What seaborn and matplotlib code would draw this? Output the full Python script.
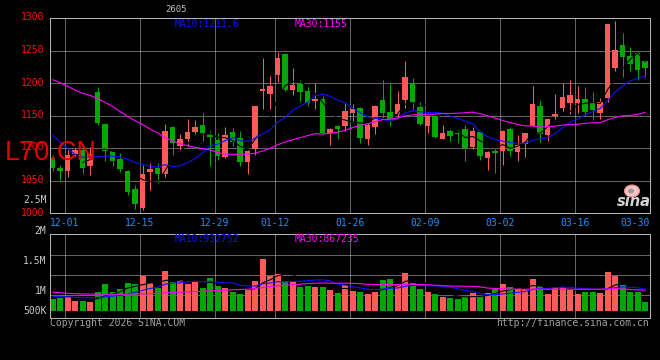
import numpy as np
import pandas as pd
import matplotlib
matplotlib.use("Agg")
import matplotlib.pyplot as plt
import matplotlib.transforms as mtransforms
from matplotlib.patches import Ellipse
import seaborn as sns

# ---------------- data ----------------
tick_labels = ["12-01", "12-15", "12-29", "01-12", "01-26", "02-09", "03-02", "03-16", "03-30"]
tick_index = [2, 12, 22, 30, 40, 50, 60, 70, 80]

open_ = [1084.6, 1069.2, 1065.1, 1091.0, 1097.0, 1072.0, 1186.2, 1136.9, 1094.9, 1083.0,
         1064.1, 1036.9, 1007.7, 1063.0, 1069.2, 1060.5, 1131.8, 1102.6, 1114.4, 1124.6,
         1135.9, 1121.5, 1112.8, 1085.6, 1124.6, 1115.4, 1078.5, 1099.0, 1188.2, 1183.0,
         1212.8, 1244.6, 1189.7, 1200.0, 1188.2, 1171.8, 1175.4, 1123.1, 1133.3, 1134.0,
         1154.0, 1161.5, 1114.4, 1132.3, 1173.8, 1155.4, 1152.3, 1174.4, 1200.0, 1163.1,
         1134.4, 1149.7, 1114.4, 1125.6, 1123.6, 1129.2, 1101.5, 1124.6, 1084.6, 1095.9,
         1095.9, 1129.2, 1093.3, 1106.2, 1134.4, 1165.1, 1120.5, 1148.7, 1161.5, 1169.2,
         1169.2, 1175.9, 1170.8, 1153.8, 1176.9, 1223.1, 1259.0, 1242.0, 1246.2, 1233.3]
high = [1089.7, 1074.4, 1097.4, 1100.0, 1102.0, 1102.0, 1193.8, 1138.5, 1097.4, 1092.3,
        1066.7, 1043.6, 1074.4, 1076.4, 1076.4, 1136.9, 1134.4, 1121.5, 1144.6, 1143.6,
        1153.8, 1125.6, 1123.0, 1131.8, 1130.8, 1125.6, 1097.4, 1165.1, 1238.5, 1211.3,
        1247.7, 1244.6, 1223.1, 1205.1, 1197.4, 1199.5, 1180.5, 1130.8, 1134.9, 1169.0,
        1168.0, 1162.6, 1138.5, 1165.6, 1205.1, 1200.0, 1188.2, 1234.4, 1207.7, 1170.8,
        1151.3, 1150.3, 1135.9, 1130.8, 1127.7, 1134.9, 1132.3, 1125.6, 1094.9, 1100.0,
        1128.2, 1132.3, 1120.5, 1123.1, 1194.9, 1174.4, 1146.2, 1183.1, 1200.0, 1205.1,
        1194.9, 1193.8, 1186.2, 1176.9, 1290.8, 1295.9, 1276.9, 1254.9, 1248.7, 1234.4]
low = [1065.1, 1051.3, 1054.9, 1088.0, 1061.0, 1058.0, 1135.9, 1080.5, 1071.8, 1063.0,
       1027.2, 1006.7, 1005.1, 1035.9, 1046.2, 1054.9, 1089.7, 1094.9, 1102.6, 1119.5,
       1110.3, 1071.8, 1082.0, 1084.6, 1102.6, 1071.8, 1060.0, 1089.7, 1160.5, 1160.5,
       1201.5, 1188.2, 1181.0, 1172.8, 1164.1, 1160.5, 1121.5, 1105.1, 1114.4, 1126.0,
       1140.0, 1107.7, 1105.1, 1122.1, 1146.2, 1134.4, 1146.2, 1161.5, 1160.5, 1134.9,
       1123.1, 1115.4, 1114.4, 1110.3, 1107.7, 1080.5, 1099.0, 1082.1, 1066.7, 1061.5,
       1073.3, 1087.2, 1080.5, 1085.6, 1133.3, 1109.2, 1111.3, 1142.0, 1156.4, 1152.3,
       1153.8, 1151.3, 1143.6, 1145.1, 1170.8, 1217.9, 1208.7, 1219.0, 1205.1, 1208.7]
close = [1069.2, 1065.1, 1090.0, 1097.0, 1069.0, 1090.0, 1138.5, 1095.9, 1080.5, 1067.7,
         1032.3, 1014.4, 1060.5, 1067.7, 1060.5, 1125.6, 1107.7, 1113.8, 1124.6, 1132.3,
         1123.1, 1116.4, 1087.2, 1120.5, 1109.2, 1078.5, 1094.9, 1165.1, 1191.3, 1194.9,
         1238.5, 1189.7, 1197.4, 1186.2, 1169.2, 1175.9, 1123.1, 1129.2, 1129.7, 1157.0,
         1160.0, 1115.4, 1134.9, 1164.1, 1153.8, 1143.6, 1167.7, 1209.2, 1170.8, 1136.9,
         1148.7, 1116.9, 1123.1, 1119.0, 1121.0, 1100.0, 1125.6, 1088.2, 1093.8, 1092.8,
         1126.7, 1095.9, 1105.1, 1123.1, 1167.7, 1122.1, 1145.1, 1152.3, 1178.5, 1182.1,
         1175.9, 1155.4, 1158.0, 1170.8, 1290.8, 1251.3, 1240.0, 1229.2, 1219.5, 1223.1]
volume = [503000, 546000, 576000, 430000, 430000, 374000, 804000, 1148000, 804000, 946000,
          1191000, 1148000, 1504000, 1191000, 976000, 1694000, 1234000, 1307000, 1169000, 1234000,
          976000, 1406000, 1062000, 976000, 817000, 731000, 933000, 1277000, 2222000, 1492000,
          1590000, 1277000, 1277000, 1019000, 1062000, 1019000, 1019000, 890000, 761000, 1092000,
          860000, 804000, 718000, 817000, 1320000, 1363000, 1148000, 1633000, 1191000, 933000,
          804000, 718000, 589000, 546000, 503000, 632000, 761000, 632000, 761000, 933000,
          1148000, 1019000, 976000, 890000, 1363000, 1062000, 718000, 1019000, 1019000, 890000,
          718000, 804000, 804000, 761000, 1663000, 1492000, 1105000, 804000, 804000, 374000]

# moving-average values at the left edge (they depend on earlier sessions not shown)
ma10_head = [1119.5, 1108.7, 1099.0, 1090.3, 1085.7, 1085.7, 1086.7, 1087.7, 1087.2]
ma30_head = [1205.0, 1200.5, 1195.0, 1189.0, 1184.0, 1181.0, 1176.0, 1170.0, 1164.0, 1156.0,
             1148.5, 1142.0, 1136.0, 1129.0, 1123.0, 1116.0, 1110.5, 1106.5, 1103.5, 1101.0,
             1099.0, 1097.0, 1093.0, 1090.5, 1090.3, 1090.3, 1090.5, 1092.0, 1095.5]
vol_ma10_head = [619000, 610000, 595000, 580000, 560000, 550000, 570000, 600000, 625000]
vol_ma30_head = [795000, 774000, 748000, 731000, 718000, 718000, 709000, 705000, 705000, 705000,
                 710000, 718000, 725000, 735000, 750000, 765000, 780000, 795000, 810000, 820000,
                 835000, 850000, 865000, 880000, 895000, 910000, 925000, 950000, 1005000]

ma_texts = ["MA10:1211.6", "MA30:1155"]
vol_ma_texts = ["MA10:932752", "MA30:867235"]
vol_axis_labels = ["2.5M", "2M", "1.5M", "1M", "500K"]
price_ticks = [1000, 1050, 1100, 1150, 1200, 1250, 1300]

# ---------------- derived frame ----------------
df = pd.DataFrame({"i": np.arange(len(close)), "open": open_, "high": high,
                   "low": low, "close": close, "vol": volume})
df["dir"] = np.where(df["close"] >= df["open"], "up", "down")
c = df["close"]
df["ma5"] = c.rolling(5).mean()
df["ma10"] = c.rolling(10).mean()
df["ma30"] = c.rolling(30).mean()
df.loc[:len(ma10_head) - 1, "ma10"] = ma10_head
df.loc[:len(ma30_head) - 1, "ma30"] = ma30_head
v = df["vol"]
df["vma5"] = v.rolling(5).mean()
df["vma10"] = v.rolling(10).mean()
df["vma30"] = v.rolling(30).mean()
df.loc[:len(vol_ma10_head) - 1, "vma10"] = vol_ma10_head
df.loc[:len(vol_ma30_head) - 1, "vma30"] = vol_ma30_head

# ---------------- style ----------------
sns.set_theme(style="dark", rc={"axes.facecolor": "black", "figure.facecolor": "black",
                                "savefig.facecolor": "black", "axes.grid": False})
plt.rcParams["font.family"] = ["DejaVu Sans Mono", "DejaVu Sans"]

RED = "#FF5A5A"
GREEN = "#00A800"
GRID = "#C8C8C8"
SPINE = "#B4B4B4"
BLUE = "#1010FF"
MAG = "#FF00FF"
palette = {"up": RED, "down": GREEN}

W, H = 660, 360
fig = plt.figure(figsize=(6.6, 3.6), dpi=100)
ax1 = fig.add_axes([50 / W, 1 - 213 / H, 600 / W, 195 / H])
ax2 = fig.add_axes([50 / W, 1 - 318 / H, 600 / W, 84 / H])

XL = (-0.36, 79.64)
dot = (0, (1, 1))
px = 0.72

# ---------------- price panel ----------------
for yv in price_ticks[1:-1]:
    ax1.axhline(yv, color=GRID, lw=px, ls=dot, zorder=1)
for t in tick_index:
    ax1.axvline(t - 0.36, color=GRID, lw=px, ls=dot, zorder=1)
    ax2.axvline(t - 0.36, color=GRID, lw=px, ls=dot, zorder=1)

cols = df["dir"].map(palette)
ax1.vlines(df["i"], df["low"], df["high"], colors=cols, lw=px, zorder=2)
body_lo = np.minimum(df["open"], df["close"])
body_h = np.maximum(np.abs(df["close"] - df["open"]), 1.6)
ax1.bar(df["i"], body_h, bottom=body_lo, width=0.74, color=cols, lw=0, zorder=2.5)

sns.lineplot(data=df, x="i", y="ma5", ax=ax1, color="black", lw=0.8, estimator=None, zorder=3)
sns.lineplot(data=df, x="i", y="ma10", ax=ax1, color=BLUE, lw=0.8, estimator=None, zorder=3)
sns.lineplot(data=df, x="i", y="ma30", ax=ax1, color=MAG, lw=0.8, estimator=None, zorder=3)

ax1.set_xlim(*XL)
ax1.set_ylim(1000, 1300)
ax1.set_yticks(price_ticks)
ax1.set_yticklabels([str(p) for p in price_ticks])
ax1.tick_params(axis="y", length=0, pad=4, labelcolor="#FF1010", labelsize=7)
ax1.set_xticks([t - 0.36 for t in tick_index])
ax1.set_xticklabels(tick_labels)
ax1.tick_params(axis="x", length=0, pad=3.5, labelcolor="#1E90FF", labelsize=7)
ax1.get_xticklabels()[-1].set_horizontalalignment("right")
ax1.set_xlabel("")
ax1.set_ylabel("")
off = mtransforms.ScaledTranslation(0, 1.5 / 100, fig.dpi_scale_trans)
for lab in ax1.get_yticklabels():
    lab.set_transform(lab.get_transform() + off)

# ---------------- volume panel ----------------
VL = (-313800, 3297000)
sns.barplot(data=df, x="i", y="vol", hue="dir", palette=palette, native_scale=True,
            width=0.78, dodge=False, legend=False, errorbar=None, saturation=1,
            linewidth=0, ax=ax2, zorder=2)
sns.lineplot(data=df, x="i", y="vma5", ax=ax2, color="black", lw=0.8, estimator=None, zorder=3)
sns.lineplot(data=df, x="i", y="vma10", ax=ax2, color=BLUE, lw=0.8, estimator=None, zorder=3)
sns.lineplot(data=df, x="i", y="vma30", ax=ax2, color=MAG, lw=0.8, estimator=None, zorder=3)
ax2.set_xlim(*XL)
ax2.set_ylim(*VL)
for f in (0.274, 0.512, 0.75):
    ax2.axhline(VL[0] + f * (VL[1] - VL[0]), color=GRID, lw=px, ls=dot, zorder=1)
ax2.set_xticks([])
ax2.set_yticks([])
ax2.set_xlabel("")
ax2.set_ylabel("")

for ax in (ax1, ax2):
    for s in ax.spines.values():
        s.set_visible(True)
        s.set_color(SPINE)
        s.set_linewidth(0.75)

# ---------------- texts ----------------
def ft(x, y, s, **kw):
    fig.text(x / W, 1 - y / H, s, **kw)

ft(175, 24, ma_texts[0], color=BLUE, fontsize=7, va="center")
ft(295, 24, ma_texts[1], color=MAG, fontsize=7, va="center")
ft(175, 238.5, vol_ma_texts[0], color=BLUE, fontsize=7, va="center")
ft(295, 238.5, vol_ma_texts[1], color=MAG, fontsize=7, va="center")
for lab, yy in zip(vol_axis_labels, [200, 231, 261, 291, 311]):
    ft(46.5, yy, lab, color="#C8C8C8", fontsize=7, va="center", ha="right")
ft(165, 10, "2605", color="#C0C0C0", fontsize=6.5, va="center")
ft(50, 323.5, "Copyright 2026 SINA.COM", color="#A0A0A0", fontsize=7, va="center")
ft(649, 323.5, "http://finance.sina.com.cn", color="#A0A0A0", fontsize=7, va="center", ha="right")
ft(5, 159.5, "L70.CN", color="#E80000", fontsize=19.5, va="baseline",
   family=["Liberation Sans", "DejaVu Sans"], zorder=10)

# sina logo
fig.add_artist(Ellipse((632 / W, 1 - 191 / H), 15 / W, 12 / H, facecolor="#F6C4C4",
                       edgecolor="#E88A8A", lw=0.8, zorder=9))
fig.add_artist(Ellipse((631 / W, 1 - 191 / H), 6 / W, 5 / H, facecolor="#9A9A9A",
                       edgecolor="none", zorder=9))
ft(634, 201, "sina", color="#D4D4D4", fontsize=10.5, fontweight="bold", fontstyle="italic",
   va="center", ha="center", family=["DejaVu Sans"], zorder=10)

fig.savefig("out.png", dpi=100, facecolor="black")
